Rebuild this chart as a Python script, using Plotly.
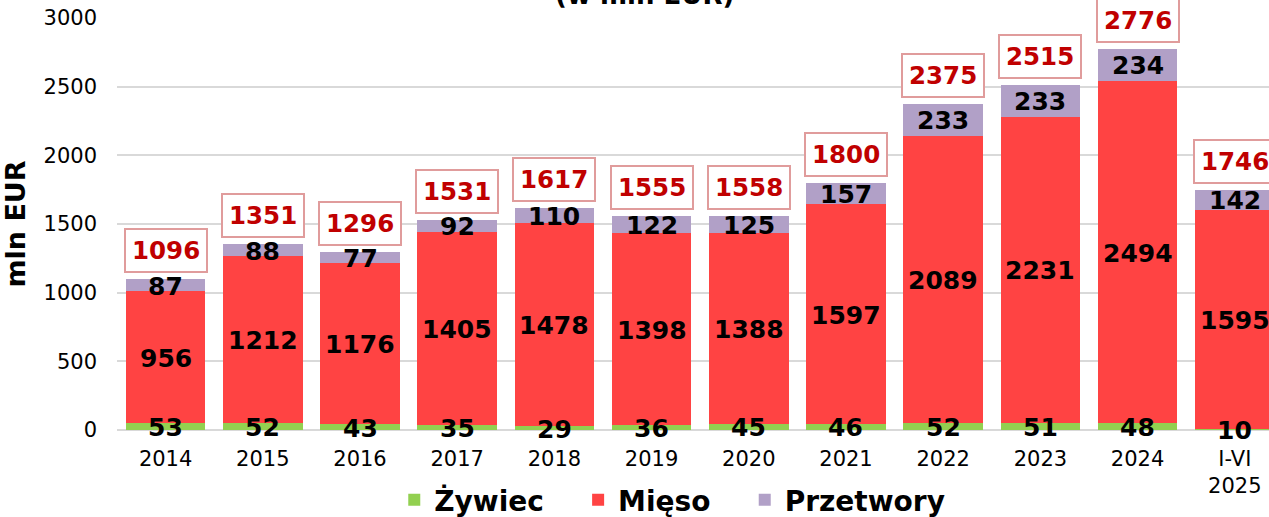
import plotly.graph_objects as go

years = ["2014", "2015", "2016", "2017", "2018", "2019", "2020", "2021", "2022", "2023", "2024", "I-VI<br>2025"]
series_names = ["Żywiec", "Mięso", "Przetwory"]
zywiec = [53, 52, 43, 35, 29, 36, 45, 46, 52, 51, 48, 10]
mieso = [956, 1212, 1176, 1405, 1478, 1398, 1388, 1597, 2089, 2231, 2494, 1595]
przetwory = [87, 88, 77, 92, 110, 122, 125, 157, 233, 233, 234, 142]
totals = [1096, 1351, 1296, 1531, 1617, 1555, 1558, 1800, 2375, 2515, 2776, 1746]

FONT = "DejaVu Sans"
C_ZYW = "#92D050"
C_MIE = "#FF4343"
C_PRZ = "#B1A0C7"
NB = "\u00a0" * 3

idx = list(range(len(years)))

fig = go.Figure()
fig.add_trace(go.Bar(x=idx, y=zywiec, name=series_names[0] + NB, marker=dict(color=C_ZYW, line=dict(width=0))))
fig.add_trace(go.Bar(x=idx, y=mieso, name=series_names[1] + NB, marker=dict(color=C_MIE, line=dict(width=0))))
fig.add_trace(go.Bar(x=idx, y=przetwory, name=series_names[2], marker=dict(color=C_PRZ, line=dict(width=0))))

annotations = []

# segment labels at segment midpoints
mid_z = [z / 2 for z in zywiec]
mid_m = [z + m / 2 for z, m in zip(zywiec, mieso)]
mid_p = [z + m + p / 2 for z, m, p in zip(zywiec, mieso, przetwory)]
for vals, mids in [(zywiec, mid_z), (mieso, mid_m), (przetwory, mid_p)]:
    for i, v, m in zip(idx, vals, mids):
        annotations.append(dict(
            x=i, y=m, xref="x", yref="y", text=str(v), showarrow=False,
            yanchor="middle", xanchor="center", yshift=-1,
            font=dict(family=FONT, size=25, color="black", weight="bold")))

for i, t in zip(idx, totals):
    annotations.append(dict(
        x=i, y=t, xref="x", yref="y", text=str(t), showarrow=False,
        yanchor="bottom", yshift=6,
        font=dict(family=FONT, size=24.5, color="#C00000", weight="bold"),
        bgcolor="white", bordercolor="#E09C9C", borderwidth=2, borderpad=6))
annotations.append(dict(
    x=0.4575, y=1, xref="paper", yref="paper", yanchor="bottom", yshift=6,
    text="(w mln EUR)", showarrow=False,
    font=dict(family=FONT, size=26, color="black", weight="bold")))

fig.update_layout(
    width=1269, height=517,
    margin=dict(l=117, r=0, t=18, b=87, autoexpand=False),
    barmode="stack", bargap=0.18,
    plot_bgcolor="white", paper_bgcolor="white",
    font=dict(family=FONT, size=21, color="black"),
    showlegend=True,
    legend=dict(orientation="h", x=0.482, xanchor="center",
                y=-0.17, yanchor="middle", traceorder="normal",
                font=dict(family=FONT, size=28, color="black", weight="bold"),
                itemclick=False, itemdoubleclick=False),
    annotations=annotations,
)
fig.update_xaxes(range=[-0.5, 11.352], showgrid=False, ticks="", showline=False,
                 tickmode="array", tickvals=idx, ticktext=years, tickangle=0,
                 tickfont=dict(family=FONT, size=21, color="black"), ticklabelstandoff=14)
fig.update_yaxes(range=[0, 3000], dtick=500, showgrid=True, gridcolor="#D9D9D9", gridwidth=2,
                 zeroline=True, zerolinecolor="#D9D9D9", zerolinewidth=2,
                 tickfont=dict(family=FONT, size=21, color="black"), ticklabelstandoff=19,
                 title=dict(text="mln EUR", standoff=17,
                            font=dict(family=FONT, size=27, color="black", weight="bold")))

fig.write_html("out.html", config={"displayModeBar": False},
               post_script="document.body.style.margin='0';")
